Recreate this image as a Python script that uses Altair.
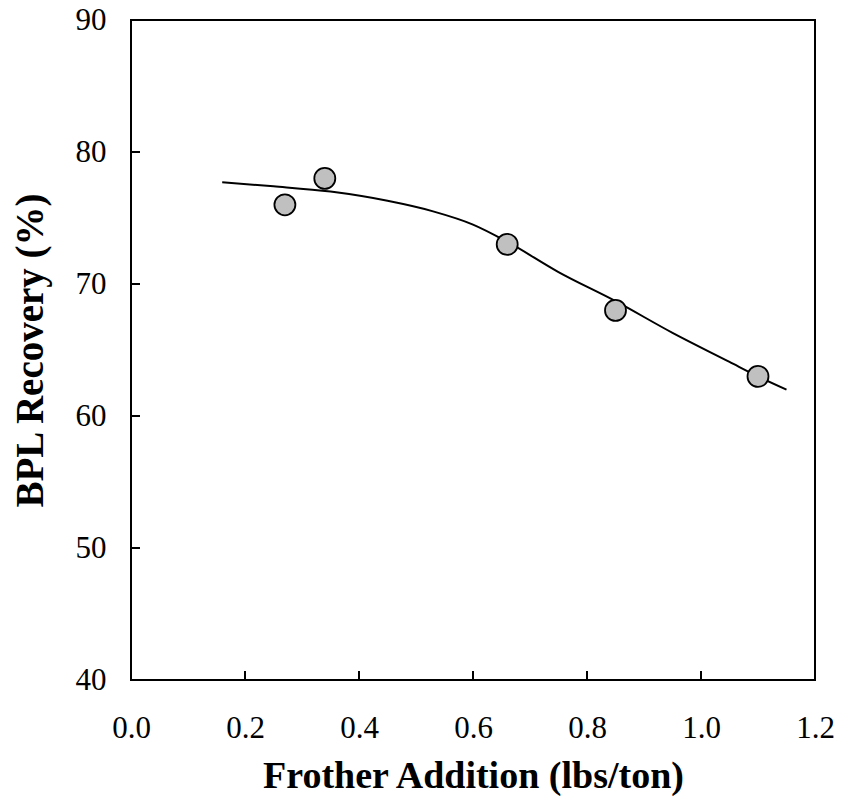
import altair as alt
import pandas as pd

# measured points
pt_x = [0.27, 0.34, 0.66, 0.85, 1.10]
pt_y = [76.0, 78.0, 73.0, 68.0, 63.0]

# fitted curve
fit_x = [0.16, 0.25, 0.35, 0.45, 0.53, 0.60, 0.66, 0.75, 0.85, 0.95, 1.05, 1.10, 1.15]
fit_y = [77.7, 77.4, 77.0, 76.3, 75.5, 74.5, 73.2, 70.9, 68.7, 66.3, 64.1, 63.0, 62.0]

x_ticks = [0.0, 0.2, 0.4, 0.6, 0.8, 1.0, 1.2]
y_ticks = [40, 50, 60, 70, 80, 90]

FONT = "Liberation Serif"

pts = pd.DataFrame({"x": pt_x, "y": pt_y})
fit = pd.DataFrame({"x": fit_x, "y": fit_y})
xt = pd.DataFrame({"x": x_ticks})
yt = pd.DataFrame({"y": y_ticks})

xscale = alt.Scale(domain=[0, 1.2], nice=False, zero=False)
yscale = alt.Scale(domain=[40, 90], nice=False, zero=False)

xaxis = alt.Axis(values=x_ticks, format=".1f", title="Frother Addition (lbs/ton)",
                 grid=False, ticks=False, domain=False, labelFont=FONT, labelFontSize=31,
                 labelColor="black", labelPadding=33, titleFont=FONT, titleFontSize=38,
                 titleFontWeight="bold", titleColor="black", titlePadding=14,
                 labelFlush=False, labelOverlap=False)
yaxis = alt.Axis(values=y_ticks, format="d", title="BPL Recovery (%)",
                 grid=False, ticks=False, domain=False, labelFont=FONT, labelFontSize=31,
                 labelColor="black", labelPadding=25, titleFont=FONT, titleFontSize=39,
                 titleFontWeight="bold", titleColor="black", titlePadding=25,
                 labelFlush=False, labelOverlap=False)

line = alt.Chart(fit).mark_line(color="black", strokeWidth=2, interpolate="monotone").encode(
    x=alt.X("x:Q", scale=xscale, axis=xaxis),
    y=alt.Y("y:Q", scale=yscale, axis=yaxis),
)

points = alt.Chart(pts).mark_point(shape="circle", filled=True, fill="#c0c0c0",
                                   stroke="black", strokeWidth=1.8, size=440, opacity=1).encode(
    x=alt.X("x:Q", scale=xscale),
    y=alt.Y("y:Q", scale=yscale),
)

xticks = alt.Chart(xt).mark_rule(color="black", strokeWidth=2).encode(
    x=alt.X("x:Q", scale=xscale),
    y=alt.value(660),
    y2=alt.value(651),
)
yticks = alt.Chart(yt).mark_rule(color="black", strokeWidth=2).encode(
    y=alt.Y("y:Q", scale=yscale),
    x=alt.value(0),
    x2=alt.value(9),
)

chart = alt.layer(line, points, xticks, yticks).properties(
    width=684, height=660,
    padding={"left": 131, "top": 20, "right": 26, "bottom": 117},
    autosize=alt.AutoSizeParams(type="none"),
    background="white",
).configure_view(stroke="black", strokeWidth=2)

chart.save("out.html", embed_options={"renderer": "svg", "actions": False})
